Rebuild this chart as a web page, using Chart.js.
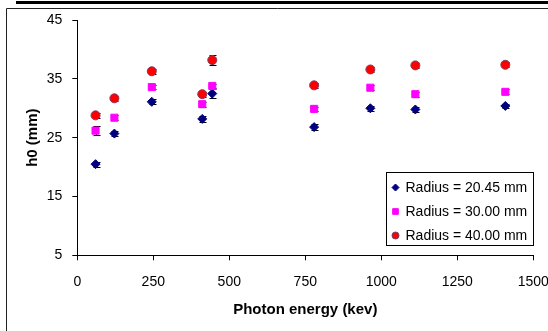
<!DOCTYPE html>
<html>
<head>
<meta charset="utf-8">
<script src="https://cdn.jsdelivr.net/npm/chart.js"></script>
<style>
  html, body { margin: 0; padding: 0; background: #fff; }
  canvas { display: block; }
</style>
</head>
<body>
<canvas id="myChart" width="548" height="331"></canvas>
<script>
// photon energies (keV)
var energy = [60, 122, 245, 411, 444, 779, 964, 1112, 1408];

var labels = ["Radius = 20.45 mm", "Radius = 30.00 mm", "Radius = 40.00 mm"];

// h0 (mm) for each radius
var h0Small = [20.5, 25.7, 31.1, 28.2, 32.5, 26.8, 30.0, 29.8, 30.4];
var h0Mid   = [26.2, 28.4, 33.6, 30.7, 33.8, 29.9, 33.5, 32.4, 32.8];
var h0Large = [28.8, 31.7, 36.3, 32.4, 38.2, 33.9, 36.6, 37.3, 37.4];

// error bars (mm)
var errSmall = [0.4, 0.4, 0.4, 0.5, 0.7, 0.5, 0.4, 0.4, 0.4];
var errMid   = [0.8, 0.4, 0.4, 0.4, 0.4, 0.4, 0.4, 0.4, 0.4];
var errLarge = [0.4, 0.4, 0.4, 0.4, 0.8, 0.4, 0.4, 0.4, 0.4];

var xTicks = [0, 250, 500, 750, 1000, 1250, 1500];
var yTicks = [5, 15, 25, 35, 45];

var fontFam = "'Liberation Sans', Arial, sans-serif";

function toPoints(ys) {
  return energy.map(function(e, i) { return { x: e, y: ys[i] }; });
}

// page frame + heavy rule at the top
var framePlugin = {
  id: "frame",
  beforeDraw: function(chart) {
    var ctx = chart.ctx;
    ctx.save();
    ctx.fillStyle = "#fff";
    ctx.fillRect(0, 0, chart.width, chart.height);
    ctx.fillStyle = "#000";
    ctx.fillRect(16, 1, chart.width - 16, 3);
    ctx.strokeStyle = "#222";
    ctx.lineWidth = 1;
    ctx.beginPath();
    ctx.moveTo(6.5, chart.height + 2);
    ctx.lineTo(6.5, 8.5);
    ctx.lineTo(chart.width + 2, 8.5);
    ctx.stroke();
    ctx.restore();
  }
};

// error bars drawn under the markers
var errorPlugin = {
  id: "errbars",
  beforeDatasetsDraw: function(chart) {
    var ctx = chart.ctx;
    var yScale = chart.scales.y;
    ctx.save();
    ctx.strokeStyle = "#000";
    ctx.lineWidth = 1;
    chart.data.datasets.forEach(function(ds, i) {
      var meta = chart.getDatasetMeta(i);
      meta.data.forEach(function(pt, j) {
        var v = ds.data[j].y;
        var e = ds.errors[j];
        var x = Math.round(pt.x) + 0.5;
        var yt = Math.round(yScale.getPixelForValue(v + e)) + 0.5;
        var yb = Math.round(yScale.getPixelForValue(v - e)) + 0.5;
        ctx.beginPath();
        ctx.moveTo(x, yt); ctx.lineTo(x, yb);
        ctx.moveTo(x - 3, yt); ctx.lineTo(x + 4, yt);
        ctx.moveTo(x - 3, yb); ctx.lineTo(x + 4, yb);
        ctx.stroke();
      });
    });
    ctx.restore();
  }
};

// boxed legend inside the plot
var legendPlugin = {
  id: "boxLegend",
  afterDraw: function(chart) {
    var ctx = chart.ctx;
    var bx = 386.5, by = 172.5, bw = 147, bh = 73;
    ctx.save();
    ctx.fillStyle = "#fff";
    ctx.fillRect(bx, by, bw, bh);
    ctx.strokeStyle = "#000";
    ctx.lineWidth = 1;
    ctx.strokeRect(bx, by, bw, bh);
    ctx.font = "14px " + fontFam;
    ctx.textBaseline = "middle";
    ctx.textAlign = "left";
    chart.data.datasets.forEach(function(ds, i) {
      var cy = by + 15 + i * 24;
      var opts = {
        pointStyle: ds.pointStyle,
        radius: ds.pointRadius - 1,
        rotation: 0,
        borderWidth: ds.pointBorderWidth
      };
      ctx.fillStyle = ds.pointBackgroundColor;
      ctx.strokeStyle = ds.pointBorderColor;
      ctx.lineWidth = ds.pointBorderWidth;
      Chart.helpers.drawPoint(ctx, opts, bx + 9, cy);
      ctx.fillStyle = "#000";
      ctx.fillText(ds.label, bx + 19, cy + 1);
    });
    ctx.restore();
  }
};

function plainTick(v) { return String(v); }

var ctx = document.getElementById("myChart").getContext("2d");
var myChart = new Chart(ctx, {
  type: "scatter",
  data: {
    datasets: [
      {
        label: labels[0],
        data: toPoints(h0Small),
        errors: errSmall,
        pointStyle: "rectRot",
        pointRadius: 4.5,
        pointBackgroundColor: "#000080",
        pointBorderColor: "#000080",
        pointBorderWidth: 1,
        order: 3
      },
      {
        label: labels[1],
        data: toPoints(h0Mid),
        errors: errMid,
        pointStyle: "rect",
        pointRadius: 5,
        pointBackgroundColor: "#ff00ff",
        pointBorderColor: "#ff00ff",
        pointBorderWidth: 1,
        order: 2
      },
      {
        label: labels[2],
        data: toPoints(h0Large),
        errors: errLarge,
        pointStyle: "circle",
        pointRadius: 4.5,
        pointBackgroundColor: "#ff0000",
        pointBorderColor: "#8a3a5a",
        pointBorderWidth: 1,
        order: 1
      }
    ]
  },
  options: {
    responsive: false,
    devicePixelRatio: 1,
    animation: false,
    layout: { padding: { left: 20, right: 14.7, top: 20.1, bottom: 8 } },
    plugins: {
      legend: { display: false },
      tooltip: { enabled: false }
    },
    scales: {
      x: {
        type: "linear",
        min: xTicks[0],
        max: xTicks[xTicks.length - 1],
        afterBuildTicks: function(s) { s.ticks = xTicks.map(function(v) { return { value: v }; }); },
        afterFit: function(s) { s.height = 67.7; s.paddingRight = 0; s.paddingLeft = 0; },
        border: { display: true, color: "#000", width: 1 },
        grid: { display: true, drawOnChartArea: false, drawTicks: true, tickLength: 5, color: "#000" },
        ticks: { color: "#000", padding: 13, maxRotation: 0, callback: plainTick, font: { family: fontFam, size: 14 } },
        title: {
          display: true,
          text: "Photon energy (kev)",
          color: "#000",
          padding: { top: 4, bottom: 4 },
          font: { family: fontFam, size: 15, weight: "bold" }
        }
      },
      y: {
        type: "linear",
        min: yTicks[0],
        max: yTicks[yTicks.length - 1],
        afterBuildTicks: function(s) { s.ticks = yTicks.map(function(v) { return { value: v }; }); },
        afterFit: function(s) { s.width = 57.3; s.paddingTop = 0; s.paddingBottom = 0; },
        border: { display: true, color: "#000", width: 1 },
        grid: { display: true, drawOnChartArea: false, drawTicks: true, tickLength: 5, color: "#000" },
        ticks: { color: "#000", padding: 10, callback: plainTick, font: { family: fontFam, size: 14 } },
        title: {
          display: true,
          text: "h0 (mm)",
          color: "#000",
          padding: { top: 4, bottom: 4 },
          font: { family: fontFam, size: 15, weight: "bold" }
        }
      }
    }
  },
  plugins: [framePlugin, errorPlugin, legendPlugin]
});
</script>
</body>
</html>
